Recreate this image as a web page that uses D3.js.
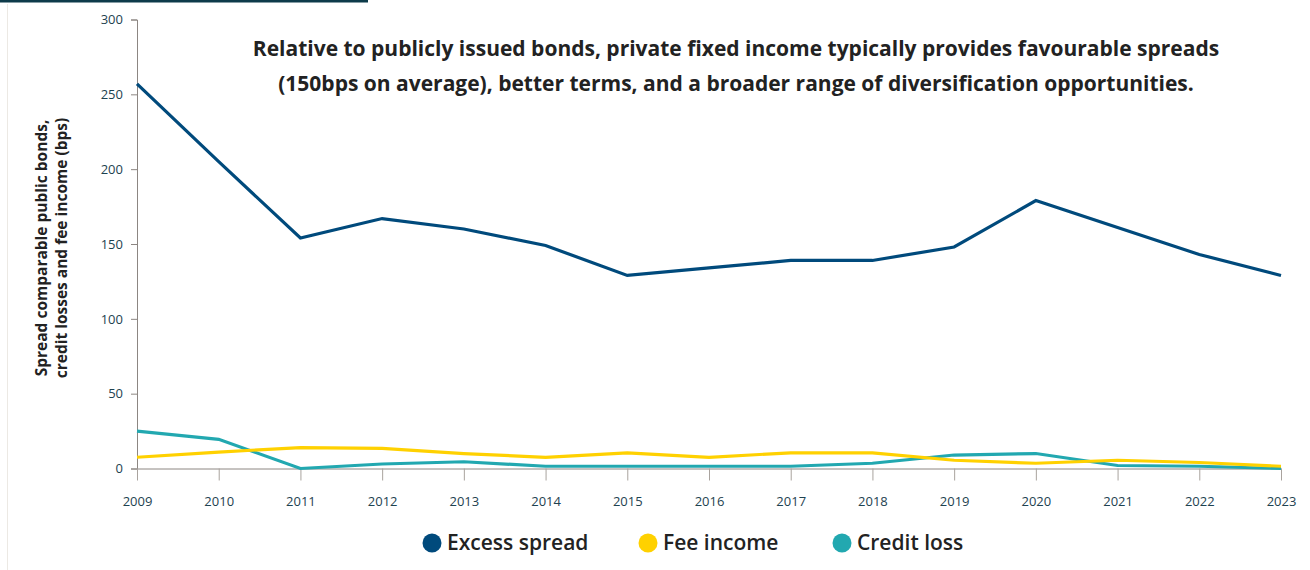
<!DOCTYPE html>
<html><head><meta charset="utf-8">
<script src="https://cdn.jsdelivr.net/npm/d3@7"></script>
<style>
html,body{margin:0;padding:0;background:#fff;}
svg{display:block;font-family:"Open Sans",sans-serif;}
</style></head>
<body><svg id="c" width="1310" height="570"></svg>
<script>
const years = [2009,2010,2011,2012,2013,2014,2015,2016,2017,2018,2019,2020,2021,2022,2023];
const excessSpread = [257,205,154,167,160,149,129,134,139,139,148,179,161,143,129];
const feeIncome = [7.5,11,14,13.5,10,7.5,10.5,7.5,10.5,10.5,5.5,3.5,5.5,4,1.5];
const creditLoss = [25,19.5,0,3,4.5,1.5,1.5,1.5,1.5,3.5,9,10,2,1.5,0];
const yTicks = [0,50,100,150,200,250,300];
const seriesNames = ["Excess spread","Fee income","Credit loss"];
const seriesColors = ["#004a7c","#ffd100","#22a8b0"];
const titleLines = ["Relative to publicly issued bonds, private fixed income typically provides favourable spreads","(150bps on average), better terms, and a broader range of diversification opportunities."];
const yLabelLines = ["Spread comparable public bonds,","credit losses and fee income (bps)"];

const svg = d3.select("#c");
svg.append("rect").attr("x",0).attr("y",0).attr("width",368).attr("height",2.5).attr("fill","#0d3b4a");
svg.append("line").attr("x1",7.5).attr("x2",7.5).attr("y1",4).attr("y2",570).attr("stroke","#ece9e4").attr("stroke-width",1);

const x = d3.scaleLinear().domain([2009,2023]).range([137,1281]);
const y = d3.scaleLinear().domain([0,300]).range([468.5,19.5]);

const axisColor = "#8c8682";
const tickText = "#1e4250";

const yAxis = svg.append("g").attr("transform","translate(137,0)")
  .call(d3.axisLeft(y).tickValues(yTicks).tickSize(6).tickPadding(8));
yAxis.select(".domain").attr("stroke",axisColor);
yAxis.selectAll(".tick line").attr("stroke",axisColor);
yAxis.selectAll("text").attr("fill",tickText).style("font-size","13px").style("font-family","Open Sans");

const xAxis = svg.append("g").attr("transform","translate(0,468.5)")
  .call(d3.axisBottom(x).tickValues(years).tickFormat(d3.format("d")).tickSize(12).tickPadding(16).tickSizeOuter(0));
xAxis.select(".domain").attr("stroke",axisColor);
xAxis.selectAll(".tick line").attr("stroke","#a9a39e");
xAxis.selectAll("text").attr("fill",tickText).style("font-size","13px").style("font-family","Open Sans");

const allSeries = [excessSpread, feeIncome, creditLoss];
const line = d3.line().x((d,i)=>x(years[i])).y(d=>y(d));
[2,1,0].forEach(k=>{
  svg.append("path").datum(allSeries[k]).attr("d",line)
    .attr("fill","none").attr("stroke",seriesColors[k]).attr("stroke-width",3.2)
    .attr("stroke-linejoin","miter");
});

const t = svg.append("text").attr("text-anchor","middle")
  .style("font-family","Open Sans").style("font-weight","700").style("font-size","21px").attr("fill","#222");
titleLines.forEach((s,i)=>t.append("tspan").attr("x",736).attr("y",56+i*35).text(s));

const yl = svg.append("text").attr("transform","translate(47,248) rotate(-90)").attr("text-anchor","middle")
  .style("font-family","Open Sans").style("font-weight","700").style("font-size","15.5px").attr("fill","#222");
yLabelLines.forEach((s,i)=>yl.append("tspan").attr("x",0).attr("y",i*20).text(s));

const legX = [432,648,842];
const lg = svg.append("g");
seriesNames.forEach((n,i)=>{
  lg.append("circle").attr("cx",legX[i]).attr("cy",543).attr("r",9.5).attr("fill",seriesColors[i]);
  lg.append("text").attr("x",legX[i]+15).attr("y",550).text(n)
    .style("font-family","Open Sans").style("font-weight","600").style("font-size","21px").attr("fill","#222");
});
</script></body></html>
